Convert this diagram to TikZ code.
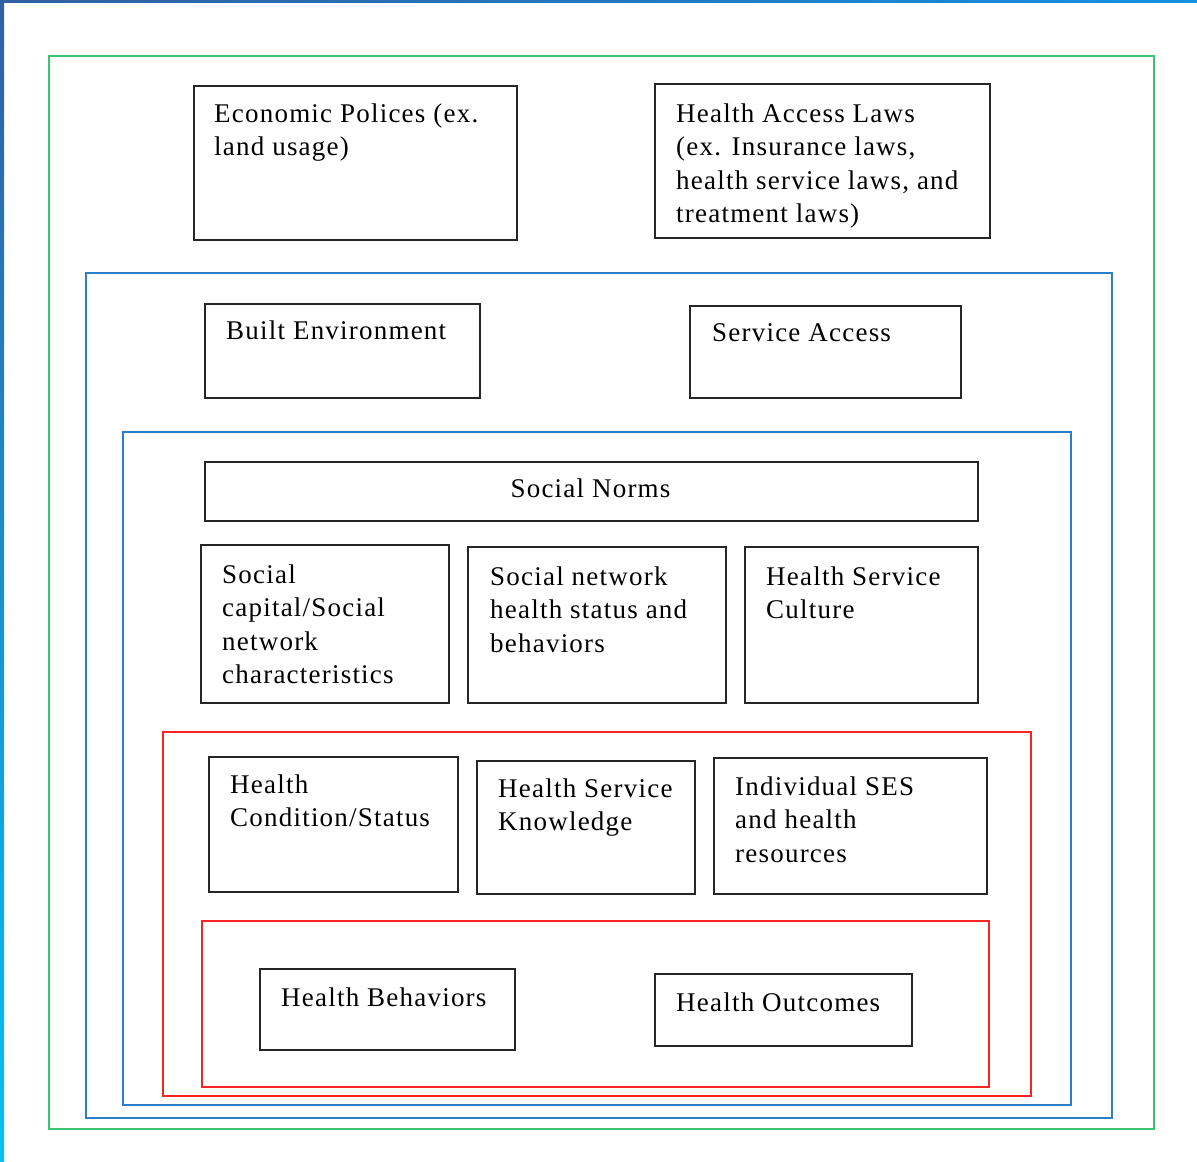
\documentclass[tikz,border=0pt]{standalone}
\usepackage{fontspec}
\setmainfont{Liberation Serif}
\definecolor{grn}{RGB}{60,195,110}
\definecolor{blu}{RGB}{45,125,205}
\definecolor{rd}{RGB}{250,35,35}
\definecolor{stripA}{RGB}{50,95,160}
\definecolor{stripB}{RGB}{5,192,245}
\definecolor{stripC}{RGB}{20,145,225}
\tikzset{
  frame/.style={draw, line width=2pt, inner sep=0pt, outer sep=0pt, anchor=north west},
  bbox/.style={frame, draw=black!85, line width=2pt},
  gframe/.style={frame, draw=grn},
  bframe/.style={frame, draw=blu},
  rframe/.style={frame, draw=rd},
  txt/.style={anchor=base west, inner sep=0pt, text=black,
    font=\fontsize{27}{33.5}\selectfont\addfontfeatures{LetterSpace=4.5}},
}
\newcommand{\bx}[6]{\node[#1, minimum width=#4-#2, minimum height=#5-#3] (#6) at (#2,#3) {};}
\newcommand{\ml}[1]{\begin{tabular}[t]{@{}l@{}}#1\end{tabular}}
\begin{document}
\begin{tikzpicture}[x=1pt,y=-1pt]
\useasboundingbox (0,0) rectangle (1197,1162);
% edge strips
\shade[top color=stripA, bottom color=stripB] (0,0) rectangle (4,1162);
\shade[left color=stripA, right color=stripC] (0,0) rectangle (1197,2);
% frames
\bx{gframe}{49}{56}{1154}{1129}{green}
\bx{bframe}{86}{273}{1112}{1118}{blue1}
\bx{bframe}{123}{432}{1071}{1105}{blue2}
\bx{rframe}{163}{732}{1031}{1096}{red1}
\bx{rframe}{202}{921}{989}{1087}{red2}
% boxes
\bx{bbox}{194}{86}{517}{240}{econ}
\bx{bbox}{655}{84}{990}{238}{laws}
\bx{bbox}{205}{304}{480}{398}{built}
\bx{bbox}{690}{306}{961}{398}{service}
\bx{bbox}{205}{462}{978}{521}{norms}
\bx{bbox}{201}{545}{449}{703}{capital}
\bx{bbox}{468}{547}{726}{703}{network}
\bx{bbox}{745}{547}{978}{703}{culture}
\bx{bbox}{209}{757}{458}{892}{condition}
\bx{bbox}{477}{761}{695}{894}{knowledge}
\bx{bbox}{714}{758}{987}{894}{ses}
\bx{bbox}{260}{969}{515}{1050}{behaviors}
\bx{bbox}{655}{974}{912}{1046}{outcomes}
% texts
\node[txt] (econ-t) at ([shift={(20,36)}]econ.north west) {\ml{Economic Polices (ex.\\land usage)}};
\node[txt] (laws-t) at ([shift={(21,38)}]laws.north west) {\ml{Health Access Laws\\(ex. Insurance laws,\\health service laws, and\\treatment laws)}};
\node[txt] (built-t) at ([shift={(21,35)}]built.north west) {Built Environment};
\node[txt] (service-t) at ([shift={(22,35)}]service.north west) {Service Access};
\node[txt, anchor=base] (norms-t) at ([shift={(-1,35)}]norms.north) {Social Norms};
\node[txt] (capital-t) at ([shift={(21,38)}]capital.north west) {\ml{Social\\capital/Social\\network\\characteristics}};
\node[txt] (network-t) at ([shift={(22,38)}]network.north west) {\ml{Social network\\health status and\\behaviors}};
\node[txt] (culture-t) at ([shift={(21,38)}]culture.north west) {\ml{Health Service\\Culture}};
\node[txt] (condition-t) at ([shift={(21,36)}]condition.north west) {\ml{Health\\Condition/Status}};
\node[txt] (knowledge-t) at ([shift={(21,36)}]knowledge.north west) {\ml{Health Service\\Knowledge}};
\node[txt] (ses-t) at ([shift={(21,37)}]ses.north west) {\ml{Individual SES\\and health\\resources}};
\node[txt] (behaviors-t) at ([shift={(21,37)}]behaviors.north west) {Health Behaviors};
\node[txt] (outcomes-t) at ([shift={(21,37)}]outcomes.north west) {Health Outcomes};
\end{tikzpicture}
\end{document}
